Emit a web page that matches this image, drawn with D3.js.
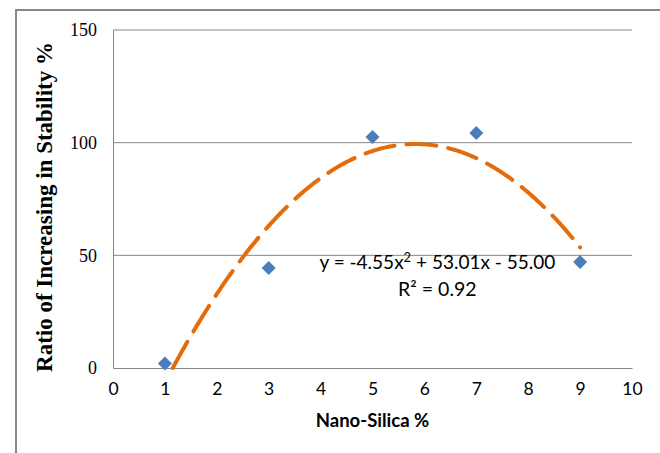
<!DOCTYPE html>
<html>
<head>
<meta charset="utf-8">
<script src="https://cdn.jsdelivr.net/npm/d3@7"></script>
<style>
  body { margin: 0; background: #fff; }
</style>
</head>
<body>
<div id="chart"></div>
<script>
// data
const nanoSilica = [1, 3, 5, 7, 9];
const stabilityRatio = [2, 44.4, 102.5, 104.3, 47];
const xTicks = [0, 1, 2, 3, 4, 5, 6, 7, 8, 9, 10];
const yTicks = [0, 50, 100, 150];
// polynomial trendline y = a x^2 + b x + c, as printed on the chart
const trendCoef = [-4.55, 53.01, -55.00];
const trendLabel = ["y = -4.55x", "2", " + 53.01x - 55.00"];
const r2Label = "R² = 0.92";

const svg = d3.select("#chart").append("svg")
  .attr("width", 660)
  .attr("height", 453);

const margin = { top: 30, right: 28, bottom: 85, left: 113 };
const width = 660 - margin.left - margin.right;
const height = 453 - margin.top - margin.bottom;

// outer frame (only left and top edges show inside the window)
svg.append("rect")
  .attr("x", 16).attr("y", 10)
  .attr("width", 700).attr("height", 500)
  .attr("fill", "none")
  .attr("stroke", "#878787")
  .attr("stroke-width", 2);

const g = svg.append("g")
  .attr("transform", `translate(${margin.left},${margin.top})`);

const x = d3.scaleLinear().domain([0, 10]).range([0, width]);
const y = d3.scaleLinear().domain([0, 150]).range([height, 0]);

// horizontal gridlines
g.selectAll(".grid").data(yTicks.filter(d => d > 0)).enter()
  .append("line")
  .attr("class", "grid")
  .attr("x1", 0).attr("x2", width)
  .attr("y1", d => y(d)).attr("y2", d => y(d))
  .attr("stroke", "#868686").attr("stroke-width", 1);

// axes
const yAxis = g.append("g").call(d3.axisLeft(y).tickValues(yTicks).tickSize(0).tickPadding(16));
yAxis.select(".domain").attr("stroke", "#868686");
yAxis.selectAll("text")
  .style("font-family", "'Liberation Serif', serif")
  .style("font-size", "18px")
  .attr("fill", "#000");

const xAxis = g.append("g")
  .attr("transform", `translate(0,${height})`)
  .call(d3.axisBottom(x).tickValues(xTicks).tickSize(0).tickPadding(15));
xAxis.select(".domain").attr("stroke", "#868686");
xAxis.selectAll("text")
  .style("font-family", "Lato, sans-serif")
  .style("font-size", "17.5px")
  .attr("fill", "#000");

// axis titles
g.append("text")
  .attr("x", width / 2)
  .attr("y", height + 59)
  .attr("text-anchor", "middle")
  .style("font-family", "Lato, sans-serif")
  .style("font-weight", "bold")
  .style("font-size", "18.5px")
  .text("Nano-Silica %");

g.append("text")
  .attr("transform", "rotate(-90)")
  .attr("x", -177)
  .attr("y", -61)
  .attr("text-anchor", "middle")
  .style("font-family", "'Liberation Serif', serif")
  .style("font-weight", "bold")
  .style("font-size", "23px")
  .text("Ratio of Increasing in Stability %");

// trendline, from where it crosses zero up to the last point
const [a, b, c] = trendCoef;
const poly = v => a * v * v + b * v + c;
const x0 = (-b + Math.sqrt(b * b - 4 * a * c)) / (2 * a);
const xEnd = d3.max(nanoSilica);
const trendX = d3.range(x0, xEnd, 0.02).concat([xEnd]);

g.append("path")
  .datum(trendX)
  .attr("d", d3.line().x(d => x(d)).y(d => y(poly(d))))
  .attr("fill", "none")
  .attr("stroke", "#E46C0A")
  .attr("stroke-width", 4)
  .attr("stroke-linecap", "round")
  .attr("stroke-dasharray", "30,12");

// data markers
const pts = nanoSilica.map((v, i) => ({ x: v, y: stabilityRatio[i] }));
g.selectAll(".pt").data(pts).enter()
  .append("path")
  .attr("class", "pt")
  .attr("d", "M0,-7L7,0L0,7L-7,0Z")
  .attr("transform", d => `translate(${x(d.x)},${y(d.y)})`)
  .attr("fill", "#4A7EBB");

// trendline labels
const eq = g.append("text")
  .attr("x", x(6.25))
  .attr("y", y(44))
  .attr("text-anchor", "middle")
  .style("font-family", "Lato, sans-serif")
  .style("font-size", "19px")
  .attr("fill", "#000");
eq.append("tspan").text(trendLabel[0]);
eq.append("tspan").attr("dy", -7).style("font-size", "13px").text(trendLabel[1]);
eq.append("tspan").attr("dy", 7).text(trendLabel[2]);

g.append("text")
  .attr("x", x(6.25))
  .attr("y", y(32))
  .attr("text-anchor", "middle")
  .style("font-family", "Lato, sans-serif")
  .style("font-size", "19.5px")
  .attr("fill", "#000")
  .text(r2Label);
</script>
</body>
</html>
